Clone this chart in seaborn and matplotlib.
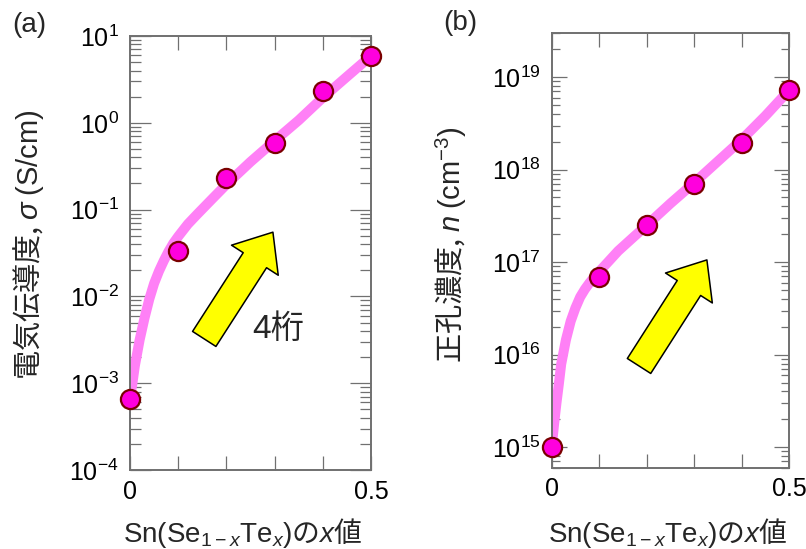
import matplotlib
matplotlib.use('Agg')
import matplotlib.pyplot as plt
from matplotlib.patches import FancyArrowPatch, ArrowStyle
from matplotlib.ticker import LogLocator, NullFormatter
import pandas as pd
import seaborn as sns

# 測定点 (x値)
x_points = [0.0, 0.1, 0.2, 0.3, 0.4, 0.5]
# (a) 電気伝導度 S/cm
sigma_points = [6.6e-4, 3.3e-2, 0.234, 0.58, 2.3, 5.9]
# (b) 正孔濃度 cm^-3
n_points = [1.0e15, 6.9e16, 2.5e17, 7.0e17, 1.95e18, 7.3e18]

# ガイド線
sigma_fit_x = [0.0, 0.005, 0.01, 0.02, 0.03, 0.04, 0.05, 0.06, 0.07, 0.08, 0.09,
               0.1, 0.12, 0.14, 0.17, 0.2, 0.25, 0.3, 0.35, 0.4, 0.45, 0.5]
sigma_fit_y = [6.8e-4, 1.0e-3, 1.58e-3, 3.16e-3, 5.6e-3, 9.3e-3, 1.41e-2, 1.95e-2,
               2.57e-2, 3.3e-2, 4.1e-2, 4.9e-2, 6.8e-2, 8.9e-2, 0.132, 0.195,
               0.355, 0.62, 1.07, 1.95, 3.4, 5.9]
n_fit_x = [0.0, 0.005, 0.01, 0.015, 0.02, 0.03, 0.04, 0.05, 0.06, 0.07, 0.08, 0.09,
           0.1, 0.12, 0.14, 0.17, 0.2, 0.25, 0.3, 0.35, 0.4, 0.45, 0.5]
n_fit_y = [1.0e15, 1.78e15, 3.0e15, 4.8e15, 7.9e15, 1.45e16, 2.3e16, 3.2e16,
           4.2e16, 5.1e16, 6.0e16, 6.9e16, 7.9e16, 1.02e17, 1.32e17, 1.82e17,
           2.5e17, 4.3e17, 7.2e17, 1.23e18, 2.1e18, 3.8e18, 7.2e18]

x_ticks = [0.0, 0.1, 0.2, 0.3, 0.4, 0.5]
x_ticklabels = ['0', '', '', '', '', '0.5']

sns.set_theme(style='white')
plt.rcParams['font.family'] = ['Liberation Sans', 'Noto Sans CJK JP', 'DejaVu Sans']
plt.rcParams['mathtext.fontset'] = 'custom'
plt.rcParams['mathtext.rm'] = 'Liberation Sans'
plt.rcParams['mathtext.it'] = 'Liberation Sans:italic'
plt.rcParams['mathtext.bf'] = 'Liberation Sans:bold'

LINE_COLOR = '#ff80f6'
FACE_COLOR = '#ff00dd'
EDGE_COLOR = '#7a0000'
AXIS_COLOR = '#707070'
CJK = 'Noto Sans CJK JP'

fig = plt.figure(figsize=(8.06, 5.49), dpi=100)
ax1 = fig.add_axes([0.1613, 0.1439, 0.299, 0.7905])
ax2 = fig.add_axes([0.6845, 0.1481, 0.2944, 0.7918])


def draw_panel(ax, fx, fy, px, py, ylim, major_len, minor_len):
    sns.lineplot(data=pd.DataFrame({'x': fx, 'y': fy}), x='x', y='y', ax=ax,
                 color=LINE_COLOR, linewidth=7.2, solid_capstyle='butt',
                 estimator=None, sort=False, zorder=2)
    sns.scatterplot(data=pd.DataFrame({'x': px, 'y': py}), x='x', y='y', ax=ax,
                    s=190, color=FACE_COLOR, edgecolor=EDGE_COLOR, linewidth=1.6,
                    zorder=4, clip_on=False)
    ax.set_yscale('log')
    ax.set_xlim(0, 0.5)
    ax.set_ylim(*ylim)
    ax.set_xticks(x_ticks)
    ax.set_xticklabels(x_ticklabels)
    ax.yaxis.set_major_locator(LogLocator(base=10, numticks=20))
    ax.yaxis.set_minor_locator(LogLocator(base=10, subs=range(2, 10), numticks=20))
    ax.yaxis.set_minor_formatter(NullFormatter())
    ax.tick_params(axis='x', which='major', direction='in', length=10, width=0.9,
                   color=AXIS_COLOR, top=True, bottom=True, labelsize=18, pad=7,
                   labelcolor='black')
    ax.tick_params(axis='y', which='major', direction='in', length=major_len,
                   width=0.9, color=AXIS_COLOR, left=True, right=True,
                   labelsize=18, pad=8, labelcolor='black')
    ax.tick_params(axis='y', which='minor', direction='in', length=minor_len,
                   width=0.9, color=AXIS_COLOR, left=True, right=True)
    for sp in ax.spines.values():
        sp.set_color(AXIS_COLOR)
        sp.set_linewidth(1.4)
    ax.set_xlabel(r'$\mathrm{Sn(Se}_{1-x}\mathrm{Te}_{x})$の$x$値',
                  fontsize=20, fontfamily=CJK)


draw_panel(ax1, sigma_fit_x, sigma_fit_y, x_points, sigma_points,
           (1e-4, 1e1), 15, 8)
draw_panel(ax2, n_fit_x, n_fit_y, x_points, n_points,
           (6e14, 3e19), 11, 6)

ax1.set_ylabel(r'電気伝導度, $\sigma$ $\mathrm{(S/cm)}$', fontsize=21, fontfamily=CJK)
ax2.set_ylabel(r'正孔濃度, $n$ $\mathrm{(cm^{-3})}$', fontsize=21, fontfamily=CJK)
ax1.yaxis.set_label_coords(-0.35, 0.518)
ax2.yaxis.set_label_coords(-0.35, 0.513)
ax1.xaxis.set_label_coords(0.469, -0.105)
ax2.xaxis.set_label_coords(0.488, -0.11)

# 矢印
arrow_style = ArrowStyle.Simple(head_length=24, head_width=40, tail_width=20)
for ax, tail, tip in [(ax1, (0.308, 0.302), (0.593, 0.548)),
                      (ax2, (0.368, 0.234), (0.654, 0.478))]:
    ax.add_patch(FancyArrowPatch(tail, tip, transform=ax.transAxes,
                                 arrowstyle=arrow_style, mutation_scale=1,
                                 shrinkA=0, shrinkB=0, facecolor='#ffff00',
                                 edgecolor='black', linewidth=1.1, zorder=3))

ax1.text(0.614, 0.323, '4桁', transform=ax1.transAxes, fontsize=24,
         ha='center', va='center')

fig.text(29 / 806, 1 - 25 / 549, '(a)', fontsize=20, ha='center', va='center')
fig.text(460 / 806, 1 - 23 / 549, '(b)', fontsize=20, ha='center', va='center')

fig.savefig('out.png', dpi=100)
